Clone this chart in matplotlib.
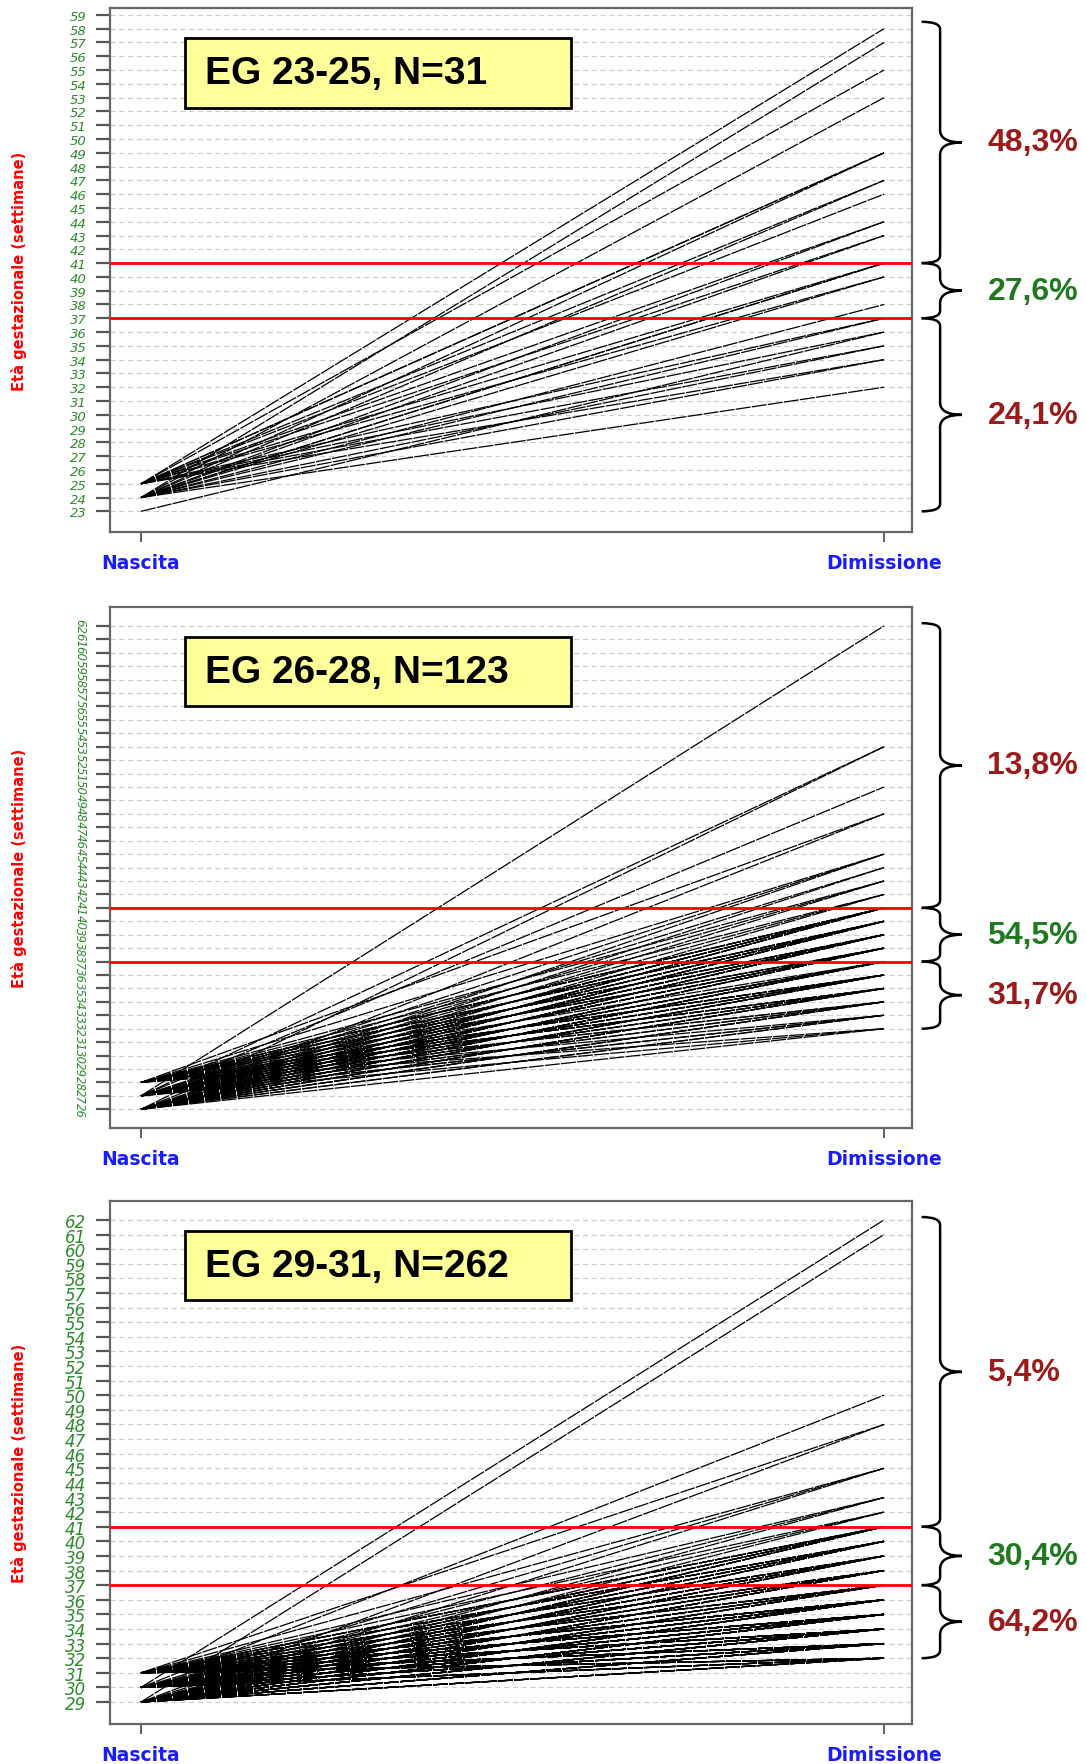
import numpy as np
import matplotlib
matplotlib.use('Agg')
import matplotlib.pyplot as plt
from matplotlib.path import Path
from matplotlib.patches import PathPatch, Rectangle
import matplotlib.transforms as mtransforms

# ---- données ----
# panneau 1 : EG 23-25 (fin de chaque ligne, groupée par EG de naissance)
p1_title = "EG 23-25, N=31"
p1_from23 = [36]
p1_from24 = [57, 53, 49, 47, 44, 43, 41, 41, 40, 38, 37, 35, 34, 32]
p1_from25 = [58, 55, 49, 49, 47, 46, 44, 43, 41, 40, 37, 36, 35, 34]
p1_ticks = list(range(23, 60))
p1_brace = [23, 37, 41, 58.5]
p1_pct = ["24,1%", "27,6%", "48,3%"]

# panneau 2 : EG 26-28 (nombre de lignes par fin)
p2_title = "EG 26-28, N=123"
p2_ends = [62, 53, 50, 48, 45, 44, 43, 42, 41, 40, 39, 38, 37, 36, 35, 34, 33, 32]
p2_n26 = [0, 1, 0, 1, 1, 1, 1, 1, 4, 5, 5, 5, 6, 5, 4, 3, 2, 1]
p2_n27 = [1, 1, 1, 0, 1, 1, 1, 1, 5, 5, 6, 5, 5, 4, 3, 2, 2, 1]
p2_n28 = [0, 0, 0, 1, 1, 0, 1, 1, 4, 4, 4, 3, 1, 4, 4, 2, 1, 1]
p2_ticks = list(range(26, 63))
p2_brace = [32, 37, 41, 62.2]
p2_pct = ["31,7%", "54,5%", "13,8%"]

# panneau 3 : EG 29-31
p3_title = "EG 29-31, N=262"
p3_ends = [62, 61, 50, 48, 45, 43, 42, 41, 40, 39, 38, 37, 36, 35, 34, 33, 32]
p3_n29 = [0, 1, 0, 1, 1, 1, 1, 5, 5, 5, 6, 6, 10, 12, 12, 9, 6]
p3_n30 = [1, 0, 1, 0, 1, 1, 1, 5, 5, 6, 6, 6, 13, 15, 15, 12, 7]
p3_n31 = [0, 0, 0, 1, 1, 1, 1, 4, 5, 5, 5, 5, 11, 13, 13, 12, 7]
p3_ticks = list(range(29, 63))
p3_brace = [32, 37, 41, 62.2]
p3_pct = ["64,2%", "30,4%", "5,4%"]

x_labels = ["Nascita", "Dimissione"]
y_label = "Età gestazionale (settimane)"
soglie = [37, 41]

GREEN_TXT = '#2f8a2f'
RED_PCT = '#9b1b1b'
GREEN_PCT = '#1f7a1f'


def pairs_from_lists(d):
    out = []
    for start, ends in d.items():
        for e in ends:
            out.append((start, e))
    return out


def pairs_from_counts(ends, d):
    out = []
    for start, counts in d.items():
        for e, n in zip(ends, counts):
            out += [(start, e)] * n
    return out


def draw_brace(ax, y0, y1, r_end=0.55, r_mid=0.9):
    trans = mtransforms.blended_transform_factory(ax.transAxes, ax.transData)
    xe, xs, xt = 1.012, 1.035, 1.062
    span = y1 - y0
    r_end = min(r_end, span / 5)
    r_mid = min(r_mid, span / 4)
    ym = (y0 + y1) / 2
    verts = [(xe, y0), (xs, y0), (xs, y0 + r_end), (xs, ym - r_mid), (xs, ym), (xt, ym),
             (xs, ym), (xs, ym + r_mid), (xs, y1 - r_end), (xs, y1), (xe, y1)]
    codes = [Path.MOVETO, Path.CURVE3, Path.CURVE3, Path.LINETO, Path.CURVE3, Path.CURVE3,
             Path.CURVE3, Path.CURVE3, Path.LINETO, Path.CURVE3, Path.CURVE3]
    ax.add_patch(PathPatch(Path(verts, codes), transform=trans, fill=False,
                           lw=1.8, color='black', clip_on=False))
    return ym, trans


def draw_panel(ax, pairs, ticks, ylim, title, brace, pct, rot=0, tick_fs=8.5):
    ax.set_xlim(-0.0417, 1.0377)
    ax.set_ylim(*ylim)
    # griglia tratteggiata
    for t in ticks:
        ax.axhline(t, color='#cccccc', lw=0.9, ls=(0, (4, 3)), zorder=0)
    for s, e in pairs:
        ax.plot([0, 1], [s, e], color='black', lw=0.9, ls=(0, (12, 1)), zorder=2)
    for s in soglie:
        ax.axhline(s, color='red', lw=2, zorder=3)

    ax.set_xticks([0, 1])
    ax.set_xticklabels(x_labels, color='#1a1aff', fontweight='bold', fontsize=13.5)
    ax.tick_params(axis='x', length=7, width=1.2, color='#444444', pad=8)
    ax.set_yticks(ticks)
    if rot:
        ax.set_yticklabels([str(t) for t in ticks], color=GREEN_TXT, fontstyle='italic',
                           fontsize=tick_fs, rotation=rot, va='center')
    else:
        ax.set_yticklabels([str(t) for t in ticks], color=GREEN_TXT, fontstyle='italic',
                           fontsize=tick_fs)
    ax.tick_params(axis='y', length=10, width=1.6, color='#555555', pad=7)
    for sp in ax.spines.values():
        sp.set_color('#666666')
        sp.set_linewidth(1.6)

    ax.set_ylabel(y_label, color='red', fontweight='bold', fontsize=10.5)
    ax.yaxis.set_label_coords(-0.104, 0.5)

    # riquadro titolo
    ax.add_patch(Rectangle((0.093, 0.81), 0.482, 0.133, transform=ax.transAxes,
                           facecolor='#ffff99', edgecolor='black', lw=2, zorder=5))
    ax.text(0.118, 0.876, title, transform=ax.transAxes, fontsize=28, fontweight='bold',
            family='Liberation Sans', va='center', ha='left', zorder=6)

    # parentesi e percentuali
    cols = [RED_PCT, GREEN_PCT, RED_PCT]
    for i in range(3):
        ym, trans = draw_brace(ax, brace[i], brace[i + 1])
        ax.text(1.094, ym, pct[i], transform=trans, color=cols[i], fontsize=23,
                fontweight='bold', family='Liberation Sans', va='center', ha='left',
                clip_on=False)


fig = plt.figure(figsize=(10.86, 17.65), dpi=100)
ax1 = fig.add_axes([0.1013, 0.698, 0.7385, 0.2969])
ax2 = fig.add_axes([0.1013, 0.3603, 0.7385, 0.2952])
ax3 = fig.add_axes([0.1013, 0.0227, 0.7385, 0.2963])

pairs1 = pairs_from_lists({23: p1_from23, 24: p1_from24, 25: p1_from25})
pairs2 = pairs_from_counts(p2_ends, {26: p2_n26, 27: p2_n27, 28: p2_n28})
pairs3 = pairs_from_counts(p3_ends, {29: p3_n29, 30: p3_n30, 31: p3_n31})

draw_panel(ax1, pairs1, p1_ticks, (21.5, 59.5), p1_title, p1_brace, p1_pct, tick_fs=9.5)
draw_panel(ax2, pairs2, p2_ticks, (24.6, 63.4), p2_title, p2_brace, p2_pct, rot=-90, tick_fs=8.5)
draw_panel(ax3, pairs3, p3_ticks, (27.5, 63.3), p3_title, p3_brace, p3_pct, tick_fs=12)

fig.savefig('out.png', dpi=100)
